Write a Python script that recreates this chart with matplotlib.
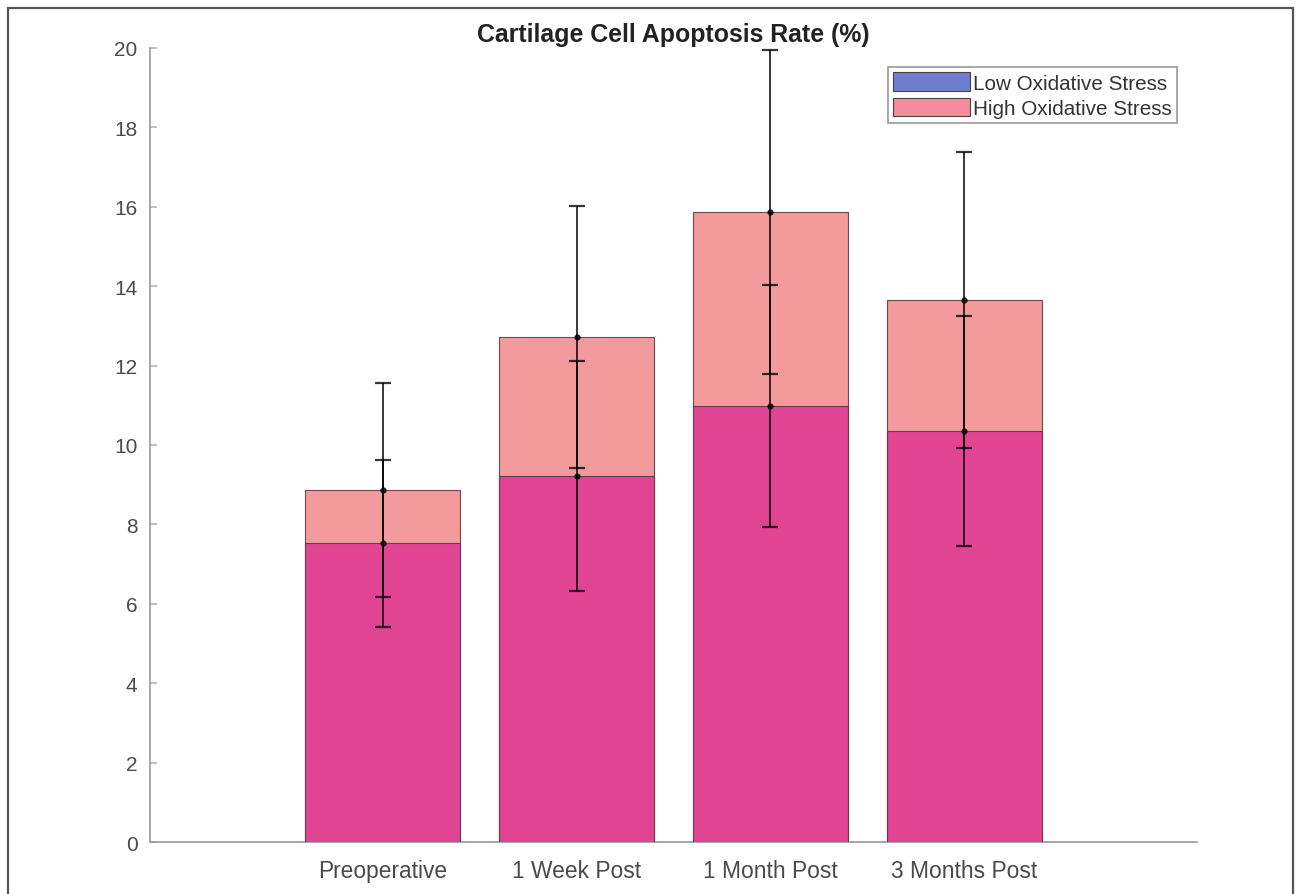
import matplotlib.pyplot as plt
from matplotlib.patches import Patch, Rectangle
import numpy as np

plt.rcParams['font.family'] = ['Liberation Sans', 'DejaVu Sans']

# 术后不同时间点的软骨细胞凋亡率
stages = ['Preoperative', '1 Week Post', '1 Month Post', '3 Months Post']
low_mean = [7.52, 9.22, 10.98, 10.35]
low_err = [2.1, 2.9, 3.05, 2.9]
high_mean = [8.87, 12.72, 15.87, 13.65]
high_err = [2.7, 3.3, 4.08, 3.73]

x = np.arange(len(stages))

fig = plt.figure(figsize=(12.96, 8.95), dpi=100)
ax = fig.add_axes([0.1157, 0.0581, 0.8079, 0.8872])

# 高氧化应激在后，低氧化应激叠在前面
ax.bar(x, high_mean, width=0.8, color='#f39a9c', edgecolor='#6a4a4a', linewidth=0.8, zorder=2)
ax.bar(x, low_mean, width=0.8, color='#e24494', edgecolor='#6a3a4a', linewidth=0.8, zorder=3)

for m, e in ((high_mean, high_err), (low_mean, low_err)):
    ax.errorbar(x, m, yerr=e, fmt='o', color='black', markersize=3.5,
                elinewidth=1.4, capsize=6, capthick=1.6, alpha=0.78, zorder=4)

ax.set_xlim(-1.2, 4.2)
ax.set_ylim(0, 20)
ax.set_yticks(np.arange(0, 21, 2))
ax.set_xticks(x)
ax.set_xticklabels(stages)

for side in ('top', 'right'):
    ax.spines[side].set_visible(False)
for side in ('left', 'bottom'):
    ax.spines[side].set_color('#a0a0a0')
    ax.spines[side].set_linewidth(1.3)

ax.tick_params(axis='y', direction='in', length=5, width=1.1, color='#b0b0b0',
               labelsize=15, labelcolor='#4a4a4a', pad=9)
ax.tick_params(axis='x', length=0, labelsize=16.4, labelcolor='#4a4a4a', pad=12)

ax.set_title('Cartilage Cell Apoptosis Rate (%)', fontsize=17.9, fontweight='bold',
             color='#222222', pad=5)

handles = [Patch(facecolor='#6f7dd0', edgecolor='#444444', linewidth=0.8),
           Patch(facecolor='#f58c9e', edgecolor='#444444', linewidth=0.8)]
leg = ax.legend(handles, ['Low Oxidative Stress', 'High Oxidative Stress'],
                loc='upper right', bbox_to_anchor=(0.9809, 0.976), fontsize=14.9,
                handlelength=3.7, handleheight=1.0, handletextpad=0.15,
                borderpad=0.25, labelspacing=0.26, borderaxespad=0,
                fancybox=False, framealpha=1)
leg.get_frame().set_edgecolor('#9a9a9a')
leg.get_frame().set_linewidth(1.2)
for t in leg.get_texts():
    t.set_color('#333333')

# 外框
fig.patches.append(Rectangle((0.0062, -0.05), 0.9915, 1.04, transform=fig.transFigure,
                             fill=False, edgecolor='#555555', linewidth=1.6))

fig.savefig('out.png', dpi=100)
